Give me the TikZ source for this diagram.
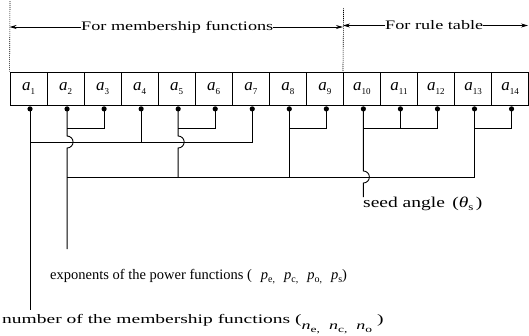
\documentclass[tikz,border=0pt]{standalone}
\usepackage{fontspec}
\setmainfont{Liberation Serif}
\newfontfamily\widefont[FakeStretch=1.4]{Liberation Serif}
\newfontfamily\widerfont[FakeStretch=1.5]{Liberation Serif}
\newfontfamily\midfont[FakeStretch=1.3]{Liberation Serif}
\usetikzlibrary{arrows.meta,calc}
\newcommand\mysub[1]{\raisebox{-0.45ex}{\fontsize{9}{9}\selectfont #1}}
\newcommand\mysubsm[1]{\raisebox{-0.45ex}{\fontsize{10}{10}\selectfont #1}}
\tikzset{
  cell/.style={draw, line width=0.8pt, minimum width=37.04pt, minimum height=33pt,
    inner sep=0pt, font=\fontsize{17}{17}\selectfont},
  wire/.style={line width=0.9pt},
  guide/.style={line width=0.6pt, dash pattern=on 1.2pt off 0.8pt},
  arr/.style={line width=0.7pt, -{Stealth[length=7pt,width=4pt]}},
  toptext/.style={inner sep=0pt, font=\widefont\fontsize{13}{13}\selectfont},
  seedtext/.style={inner sep=0pt, font=\midfont\fontsize{15}{15}\selectfont},
  exptext/.style={inner sep=0pt, font=\fontsize{14.5}{14.5}\selectfont},
  numtext/.style={inner sep=0pt, font=\widerfont\fontsize{13}{13}\selectfont},
}
\begin{document}
\begin{tikzpicture}[x=1pt,y=-1pt]
\useasboundingbox (0,0) rectangle (529,335);
% cells
\foreach \i in {1,...,14}{
  \node[cell] (a\i) at ({10+37.04*(\i-0.5)},88.5) {\textit{a}\mysub{\i}};
  \coordinate (d\i) at ($(a\i.south)+(1.5,3.5)$);
}
% levels
\coordinate (yb) at (0,128);
\coordinate (y1) at (0,142);
\coordinate (y2) at (0,177);
\coordinate (yend1) at (0,310);
\coordinate (yend2) at (0,249);
\coordinate (yseed) at (0,197);
% guides
\coordinate (gl) at (10,1);
\coordinate (gm) at (343.56,8);
\coordinate (gr) at (528,0);
\draw[guide] (gl) -- (a1.north west);
\draw[guide] (gm) -- (a10.north west);
% top labels and arrows
\node[toptext, anchor=west] (t1) at (81,27) {For membership functions};
\node[toptext, anchor=west] (t2) at (385,25.5) {For rule table};
\draw[arr] (t1.west) -- (t1.west -| a1.north west);
\draw[arr] (t1.east) -- (t1.east -| a10.north west);
\draw[arr] (t2.west) -- (t2.west -| a10.north west);
\draw[arr] (t2.east) -- (t2.east -| gr);
% wires
\draw[wire] (d1) -- (d1 |- yend1);
\draw[wire] (d1 |- y1) -- (d7 |- y1) -- (d7);
\draw[wire] (d4) -- (d4 |- y1);
\draw[wire] (d3) -- (d3 |- yb) -- (d2 |- yb);
\draw[wire] (d2) -- ($(d2 |- y1)+(0,-6)$) arc[start angle=-90,end angle=90,radius=6] -- (d2 |- yend2);
\draw[wire] (d6) -- (d6 |- yb) -- (d5 |- yb);
\draw[wire] (d5) -- ($(d5 |- y1)+(0,-6)$) arc[start angle=-90,end angle=90,radius=6] -- (d5 |- y2);
\draw[wire] (d9) -- (d9 |- yb) -- (d8 |- yb);
\draw[wire] (d8) -- (d8 |- y2);
\draw[wire] (d2 |- y2) -- (d13 |- y2) -- (d13);
\draw[wire] (d14) -- (d14 |- yb) -- (d13 |- yb);
\draw[wire] (d12) -- (d12 |- yb) -- (d10 |- yb);
\draw[wire] (d11) -- (d11 |- yb);
\draw[wire] (d10) -- ($(d10 |- y2)+(0,-6)$) arc[start angle=-90,end angle=90,radius=6] -- (d10 |- yseed);
% dots
\foreach \i in {1,...,14}{ \fill (d\i) circle[radius=2.6pt]; }
% bottom labels
\node[seedtext, anchor=base west] (seed) at (363,207) {seed angle \,(\textit{θ}\mysubsm{s}\,)};
\node[exptext, anchor=base west] (expo) at (50,279) {exponents of the power functions (\hspace{9pt}\textit{p}\mysubsm{e,}\hspace{9pt}\textit{p}\mysubsm{c,}\hspace{9pt}\textit{p}\mysubsm{o,}\hspace{9pt}\textit{p}\mysubsm{s})};
\node[numtext, anchor=base west] (num) at (2,323) {number of the membership functions (\raisebox{-1.1ex}{\fontsize{12}{12}\selectfont\textit{n}\mysub{e,}\ \ \textit{n}\mysub{c,}\ \ \textit{n}\mysub{o}}\ )};
\end{tikzpicture}
\end{document}
